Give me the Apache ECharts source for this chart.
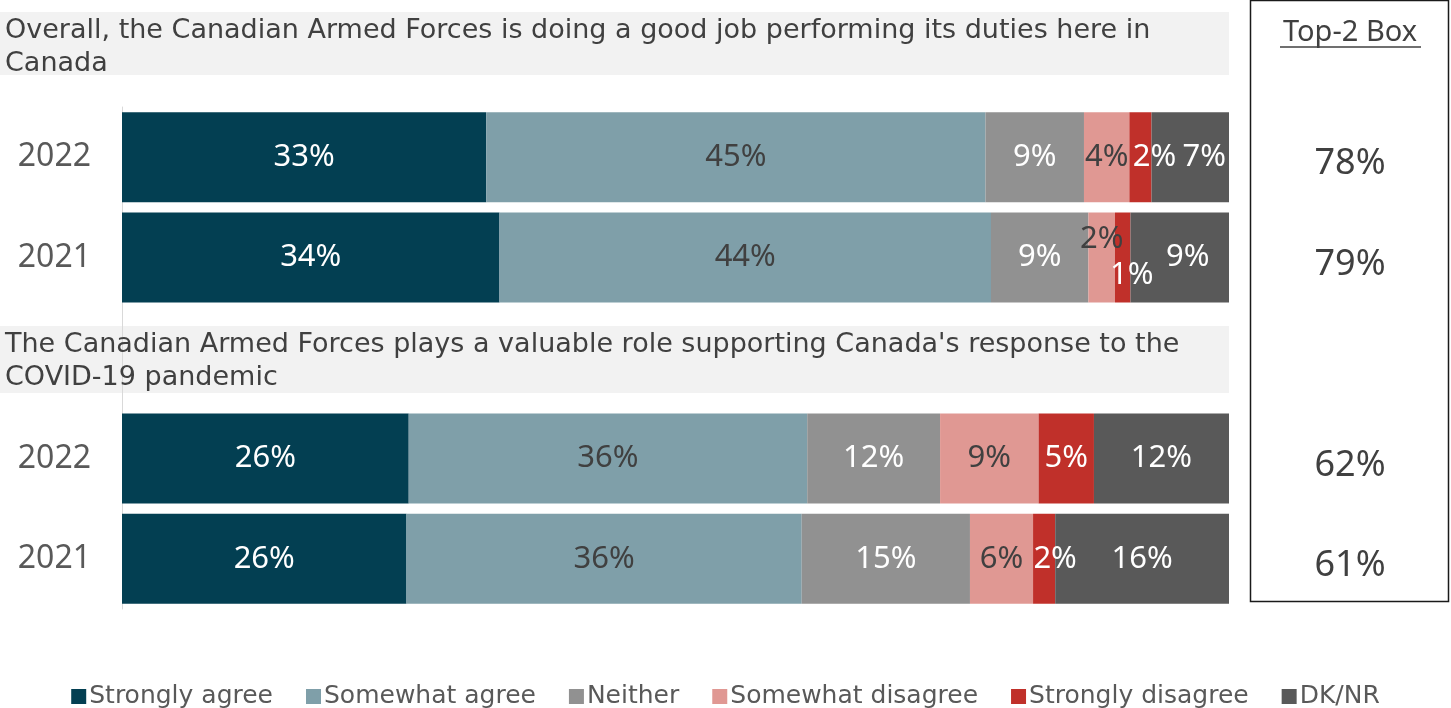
<!DOCTYPE html>
<html><head><meta charset="utf-8">
<script src="https://cdn.jsdelivr.net/npm/echarts@6/dist/echarts.min.js"></script>
<style>html,body{margin:0;padding:0;background:#fff}#c{width:1451px;height:708px}</style>
</head><body><div id="c"></div>
<script>
// ---- data ----
const categories = ['q1_2022', 'q1_2021', 'gap', 'q2_2022', 'q2_2021'];
const yearLabels = ['2022', '2021', '', '2022', '2021'];
const seriesNames = ['Strongly agree', 'Somewhat agree', 'Neither', 'Somewhat disagree', 'Strongly disagree', 'DK/NR'];
const stronglyAgree    = [32.9, 34.1, null, 25.9, 25.7];
const somewhatAgree    = [45.1, 44.4, null, 36.0, 35.7];
const neither          = [8.9, 8.8, null, 12.0, 15.2];
const somewhatDisagree = [4.1, 2.4, null, 8.9, 5.7];
const stronglyDisagree = [2.0, 1.4, null, 5.0, 2.0];
const dkNr             = [7.0, 8.9, null, 12.2, 15.7];
const top2Box = [78, 79, null, 62, 61];
const questions = [
  'Overall, the Canadian Armed Forces is doing a good job performing its duties here in\nCanada',
  "The Canadian Armed Forces plays a valuable role supporting Canada's response to the\nCOVID-19 pandemic"
];
const top2Title = 'Top-2 Box';

// ---- styles ----
const FONT = 'Noto Sans';
const WIDE = 'DejaVu Sans';
const colors = ['#033f52', '#7f9fa9', '#919191', '#e09893', '#c0302a', '#595959'];
const labelColors = ['#ffffff', '#404040', '#ffffff', '#404040', '#ffffff', '#ffffff'];
const labelOffsets = { '4-0': [14, 0], '5-0': [14, 0], '3-1': [0, -18], '4-1': [9, 18], '5-1': [8, 0], '4-4': [11, 0] };
const allValues = [stronglyAgree, somewhatAgree, neither, somewhatDisagree, stronglyDisagree, dkNr];

const chart = echarts.init(document.getElementById('c'), null, { renderer: 'canvas' });

const series = allValues.map((vals, si) => ({
  name: seriesNames[si],
  type: 'bar',
  stack: 'total',
  barWidth: 90,
  itemStyle: { color: colors[si] },
  label: {
    show: true,
    position: 'inside',
    color: labelColors[si],
    fontFamily: FONT,
    fontSize: 31,
    formatter: p => (p.value == null ? '' : Math.round(p.value) + '%')
  },
  data: vals.map((v, di) => {
    const off = labelOffsets[si + '-' + di];
    return off ? { value: v, label: { offset: off } } : v;
  })
}));

const option = {
  animation: false,
  backgroundColor: '#ffffff',
  grid: { left: 122, right: 222, top: 107, height: 502 },
  xAxis: { type: 'value', min: 0, max: 100, show: false },
  yAxis: {
    type: 'category',
    inverse: true,
    data: categories,
    axisLine: { show: true, lineStyle: { color: '#d9d9d9', width: 1 } },
    axisTick: { show: false },
    axisLabel: {
      margin: 31,
      fontFamily: FONT,
      fontSize: 32,
      color: '#595959',
      formatter: (v, i) => yearLabels[i]
    }
  },
  legend: {
    top: 679,
    left: 'center',
    icon: 'rect',
    itemWidth: 15,
    itemHeight: 15,
    itemGap: 33,
    textStyle: { fontFamily: WIDE, fontSize: 25, color: '#595959', padding: [0, 0, 0, -2] },
    data: seriesNames
  },
  series: series
};
chart.setOption(option);

// header boxes and Top-2 column
const graphics = [];
const headerBoxes = [{ y: 12, h: 63 }, { y: 326, h: 67 }];
headerBoxes.forEach((b, i) => {
  graphics.push({ type: 'rect', shape: { x: 0, y: b.y, width: 1229, height: b.h }, style: { fill: '#f2f2f2' }, z: 0 });
  graphics.push({ type: 'text', x: 5, y: b.y + 2, style: { text: questions[i], font: '27px "' + WIDE + '"', fill: '#404040', lineHeight: 33, verticalAlign: 'top' }, z: 1 });
});
graphics.push({ type: 'rect', shape: { x: 1250.5, y: 0.5, width: 198, height: 601 }, style: { fill: 'none', stroke: '#1a1a1a', lineWidth: 1.5 }, z: 1 });
graphics.push({ type: 'text', x: 1350, y: 33, style: { text: top2Title, font: '29px "' + FONT + '"', fill: '#404040', align: 'center', verticalAlign: 'middle' }, z: 2 });
graphics.push({ type: 'line', shape: { x1: 1280, y1: 47, x2: 1421, y2: 47 }, style: { stroke: '#404040', lineWidth: 1.5 }, z: 2 });
top2Box.forEach((v, i) => {
  if (v == null) return;
  const y = chart.convertToPixel({ yAxisIndex: 0 }, categories[i]);
  graphics.push({ type: 'text', x: 1350, y: y + 7, style: { text: v + '%', font: '36px "' + FONT + '"', fill: '#404040', align: 'center', verticalAlign: 'middle' }, z: 2 });
});
chart.setOption({ graphic: graphics });
</script>
</body></html>
